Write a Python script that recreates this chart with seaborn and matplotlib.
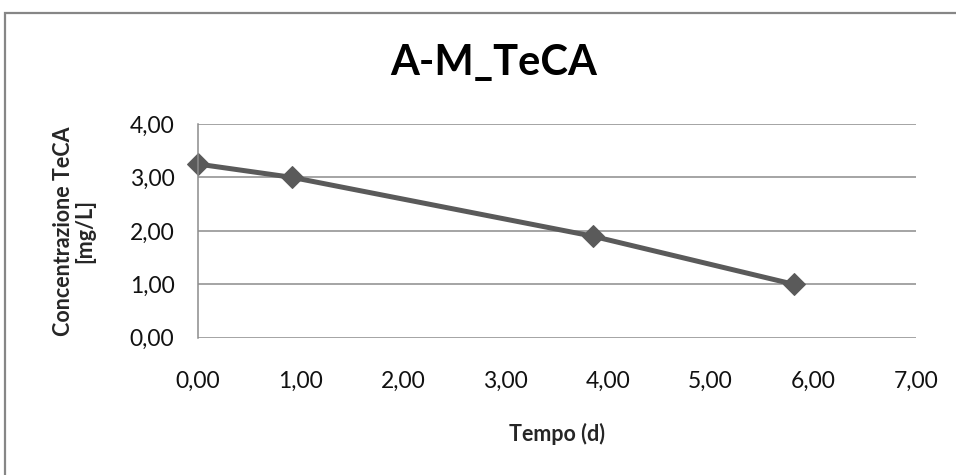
import matplotlib
matplotlib.use("Agg")
import matplotlib.pyplot as plt
from matplotlib.patches import Rectangle
from matplotlib.ticker import FuncFormatter, MultipleLocator
import seaborn as sns
import pandas as pd

# Time (days) and TeCA concentration (mg/L)
tempo = [0.00, 0.92, 3.85, 5.81]
concentrazione = [3.25, 3.00, 1.90, 1.00]

sns.set_theme(style="white")
plt.rcParams["font.family"] = ["Lato", "DejaVu Sans"]

df = pd.DataFrame({"Tempo (d)": tempo, "Concentrazione": concentrazione})

fig = plt.figure(figsize=(9.56, 4.75), dpi=100)
ax = fig.add_axes([198 / 956, 1 - 337.7 / 475, (915.7 - 198) / 956, (337.7 - 124) / 475])

sns.lineplot(data=df, x="Tempo (d)", y="Concentrazione", ax=ax,
             color="#5a5a5a", linewidth=3.6, marker="D", markersize=11,
             markeredgecolor="#5a5a5a", markerfacecolor="#5a5a5a", clip_on=False)

ax.set_xlim(0, 7)
ax.set_ylim(0, 4)
ax.xaxis.set_major_locator(MultipleLocator(1))
ax.yaxis.set_major_locator(MultipleLocator(1))
comma = FuncFormatter(lambda v, _: f"{v:.2f}".replace(".", ","))
ax.xaxis.set_major_formatter(comma)
ax.yaxis.set_major_formatter(comma)

ax.grid(axis="y", color="#8c8c8c", linewidth=1.1)
ax.grid(axis="x", visible=False)
for side in ["top", "right", "bottom"]:
    ax.spines[side].set_visible(False)
ax.spines["left"].set_color("#8c8c8c")
ax.spines["left"].set_linewidth(1.1)
ax.tick_params(axis="both", length=0, labelsize=16.5, colors="#111111")
ax.tick_params(axis="x", pad=24)
ax.tick_params(axis="y", pad=17)

ax.set_xlabel("Tempo (d)", fontsize=15.5, fontweight="bold", labelpad=22)
ax.set_ylabel("Concentrazione TeCA\n[mg/L]", fontsize=15.5, fontweight="bold",
              labelpad=25, linespacing=1.0)

fig.text(494 / 956, 1 - 63 / 475, "A-M_TeCA", ha="center", va="center",
         fontsize=30, fontweight="bold", color="#000000")

# Chart area frame
fig.patches.append(Rectangle((4.5 / 956, -0.2), 1.2, 1.2 - 12.5 / 475,
                             transform=fig.transFigure, fill=False,
                             edgecolor="#868686", linewidth=1.6))

fig.savefig("out.png", dpi=100)
